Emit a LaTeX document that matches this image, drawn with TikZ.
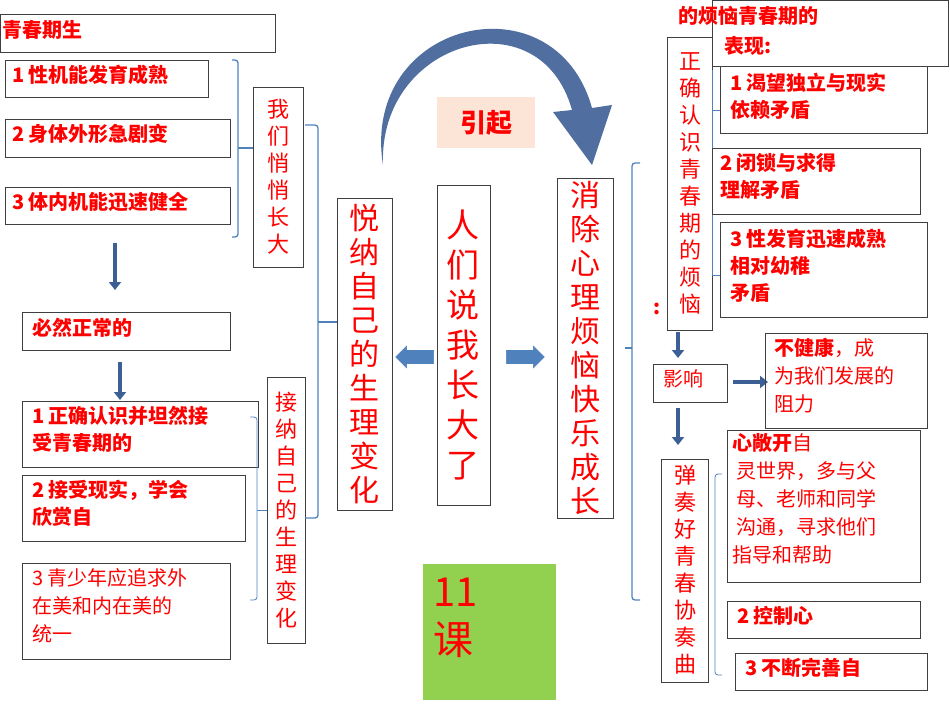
\documentclass[tikz,border=0pt]{standalone}
\usepackage{fontspec}
\setmainfont{Noto Sans CJK SC}
\usetikzlibrary{arrows.meta,shapes.arrows}
\definecolor{rd}{RGB}{255,0,0}
\definecolor{bl}{RGB}{79,129,189}
\definecolor{dbl}{RGB}{60,95,150}
\definecolor{gr}{RGB}{146,208,80}
\definecolor{pe}{RGB}{252,228,214}
\begin{document}
\begin{tikzpicture}[x=1pt,y=-1pt,
 bx/.style={draw=black!75,line width=0.8pt},
 tx/.style={text=rd,font=\fontsize{20}{27}\selectfont\bfseries,anchor=north west,align=left,inner sep=0},
 txn/.style={text=rd,font=\fontsize{20}{28}\selectfont,anchor=north west,align=left,inner sep=0},
 vt/.style={text=rd,font=\fontsize{22}{27}\selectfont,align=center,inner sep=0},
 bg/.style={text=rd,font=\fontsize{30}{34}\selectfont,align=center,inner sep=0},
 br/.style={draw=bl,line width=1.3pt,rounded corners=3pt},
 dar/.style={draw=dbl,line width=3.5pt,-{Triangle[length=8pt,width=12pt]}},
 fat/.style={single arrow,fill=bl,draw=bl,minimum height=38pt,minimum width=22pt,single arrow head extend=2pt,inner sep=3pt}]
\useasboundingbox (0,0) rectangle (950,713);
% left column
\draw[bx] (0,14) rectangle (275,52); \node[tx] (t0) at (2,20) {青春期生};
\draw[bx] (5,60) rectangle (208,97); \node[tx] (t1) at (12,65) {1 性机能发育成熟};
\draw[bx] (5,119) rectangle (230,157); \node[tx] (t2) at (12,124) {2 身体外形急剧变};
\draw[bx] (5,187) rectangle (230,224); \node[tx] (t3) at (12,192) {3 体内机能迅速健全};
\draw[br] (232,60) -- (238,60) -- (238,237) -- (232,237);
\draw[br] (238,148) -- (253,148);
\draw[bx] (253,87) rectangle (303,267); \node[vt] (g1) at (278,177) {我\\们\\悄\\悄\\长\\大};
\draw[dar] (115,243) -- (115,290);
\draw[bx] (22,312) rectangle (230,350); \node[tx] (n1) at (32,318) {必然正常的};
\draw[dar] (120,362) -- (120,400);
\draw[bx] (22,401) rectangle (258,467); \node[tx] (a1) at (32,406) {1 正确认识并坦然接\\受青春期的};
\draw[bx] (22,475) rectangle (245,541); \node[tx] (a2) at (32,480) {2 接受现实，学会\\欣赏自};
\draw[bx] (22,563) rectangle (230,659); \node[txn] (a3) at (32,568) {3 青少年应追求外\\在美和内在美的\\统一};
\draw[draw=bl,line width=0.8pt,rounded corners=3pt] (250,417) -- (257,417) -- (257,600) -- (250,600);
\draw[draw=bl,line width=0.8pt] (257,510) -- (267,510);
\draw[bx] (267,377) rectangle (305,643); \node[vt] (g2) at (286,510) {接\\纳\\自\\己\\的\\生\\理\\变\\化};
\draw[br] (305,125) -- (318,125) -- (318,518) -- (305,518);
\draw[br] (318,322) -- (337,322);
\draw[bx] (337,198) rectangle (392,510); \node[bg] (m1) at (364,354) {悦\\纳\\自\\己\\的\\生\\理\\变\\化};
\draw[bx] (437,185) rectangle (490,505); \node[bg,font=\fontsize{33}{40}\selectfont] (m2) at (463,345) {人\\们\\说\\我\\长\\大\\了};
\draw[bx] (557,178) rectangle (613,518); \node[bg] (m3) at (585,348) {消\\除\\心\\理\\烦\\恼\\快\\乐\\成\\长};
\node[fat,shape border rotate=180] (la) at (418,357) {};
\node[fat] (ra) at (522,357) {};
% curved arrow
\fill[dbl!90!white] (383,165) .. controls (378,40) and (540,-5) .. (572,110) -- (553,112) -- (592,165) -- (612,105) -- (592,108) .. controls (555,-25) and (360,20) .. (383,165) -- cycle;
\fill[pe] (437,97) rectangle (535,148); \node[text=rd,font=\fontsize{26}{30}\selectfont\bfseries] (yq) at (486,123) {引起};
% right side
\draw[br] (640,163) -- (632,163) -- (632,600) -- (640,600);
\draw[br] (625,348) -- (632,348);
\draw[bx] (667,37) rectangle (712,330); \node[vt] (z1) at (690,183) {正\\确\\认\\识\\青\\春\\期\\的\\烦\\恼};
\node[tx] (col) at (653,303) {:};
\draw[bx] (712,0) rectangle (948,66); \node[tx] (h0) at (678,6) {的烦恼青春期的}; \node[tx] (h1) at (724,36) {表现:};
\draw[draw=bl,line width=0.8pt] (712,70) -- (712,275); \draw[draw=bl,line width=0.8pt] (712,110)--(720,110) (712,275)--(720,275);
\draw[bx] (720,66) rectangle (927,133); \node[tx] (r1) at (730,73) {1 渴望独立与现实\\依赖矛盾};
\draw[bx] (712,148) rectangle (920,214); \node[tx] (r2) at (720,153) {2 闭锁与求得\\理解矛盾};
\draw[bx] (720,222) rectangle (927,317); \node[tx] (r3) at (730,229) {3 性发育迅速成熟\\相对幼稚\\矛盾};
\draw[dar] (678,332) -- (678,358);
\draw[bx] (653,364) rectangle (727,402); \node[tx,font=\fontsize{20}{24}\selectfont] (yx) at (663,369) {影响};
\draw[dar] (733,382) -- (768,382);
\draw[bx] (765,333) rectangle (927,428); \node[txn] (r4) at (774,338) {\textbf{不健康}，成\\为我们发展的\\阻力};
\draw[dar] (678,408) -- (678,445);
\draw[bx] (661,459) rectangle (708,682); \node[vt] (z2) at (685,570) {弹\\奏\\好\\青\\春\\协\\奏\\曲};
\draw[draw=bl,line width=0.8pt,rounded corners=3pt] (722,474) -- (715,474) -- (715,675) -- (722,675);
\draw[bx] (727,430) rectangle (920,582); \node[txn] (r5) at (732,433) {\textbf{心敞开}自\\\ 灵世界，多与父\\\ 母、老师和同学\\\ 沟通，寻求他们\\指导和帮助};
\draw[bx] (727,601) rectangle (920,638); \node[tx] (r6) at (737,606) {2 控制心};
\draw[bx] (735,653) rectangle (927,690); \node[tx] (r7) at (745,658) {3 不断完善自};
\fill[gr] (423,564) rectangle (556,700);
\node[text=rd,font=\fontsize{40}{48}\selectfont,anchor=north west,align=left,inner sep=0] (k) at (433,578) {11\\课};
\end{tikzpicture}
\end{document}
